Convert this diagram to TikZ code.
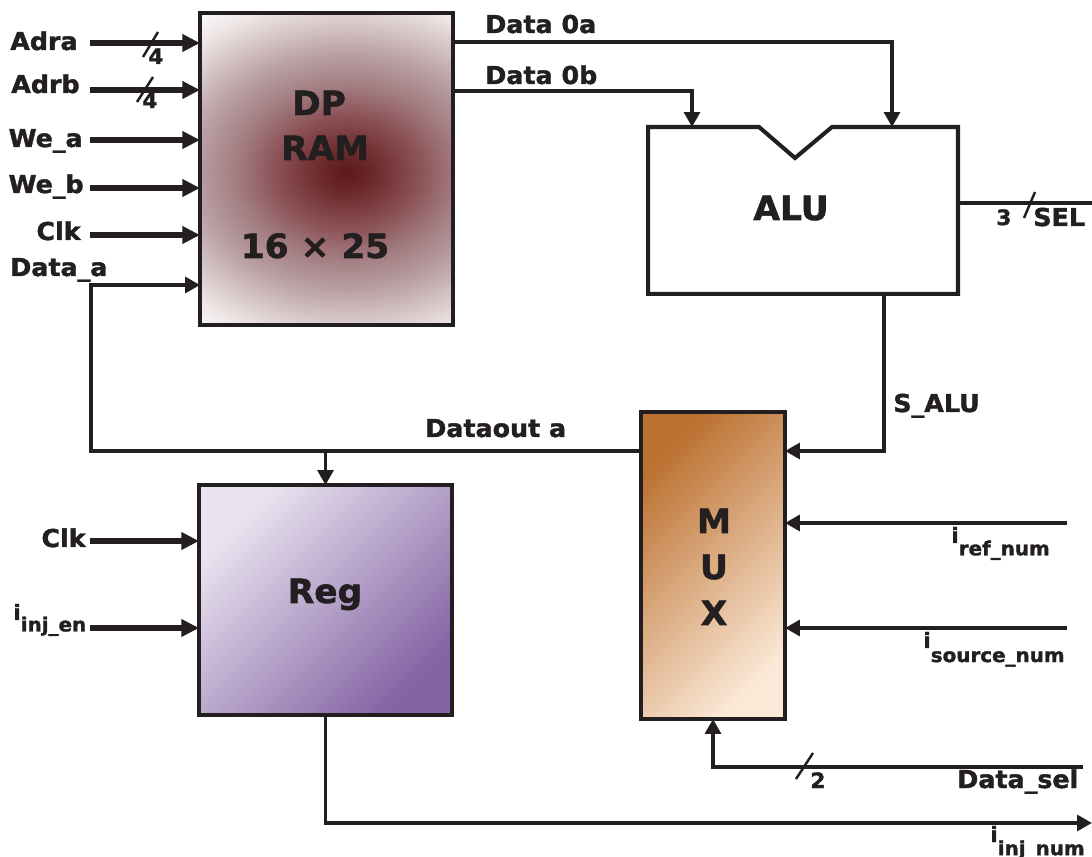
\documentclass[tikz,border=0pt]{standalone}
\usepackage{fontspec}
\setmainfont{DejaVu Sans}[FakeStretch=1.03, BoldFeatures={FakeBold=1.6}]
\usetikzlibrary{arrows.meta}
\definecolor{lc}{HTML}{231F20}
\definecolor{rc0}{HTML}{5C1A1C}
\definecolor{rc1}{HTML}{6A282A}
\definecolor{rc2}{HTML}{8A5054}
\definecolor{rc3}{HTML}{A27C80}
\definecolor{rc4}{HTML}{B89EA2}
\definecolor{rc5}{HTML}{CFBDC0}
\definecolor{rc6}{HTML}{EEE5E5}
\definecolor{rc7}{HTML}{FBF8F8}
\definecolor{muxA}{HTML}{BC7232}
\definecolor{muxB}{HTML}{FBE8D6}
\definecolor{regA}{HTML}{EAE4F0}
\definecolor{regB}{HTML}{8464A4}
\pgfdeclareradialshading{ramsh}{\pgfpoint{0bp}{0bp}}{color(0bp)=(rc0); color(2.5bp)=(rc1); color(7bp)=(rc2); color(11bp)=(rc3); color(15bp)=(rc4); color(18bp)=(rc5); color(22bp)=(rc6); color(25bp)=(rc7); color(50bp)=(rc7)}
\newcommand{\isub}[2]{{\fontsize{12}{14}\selectfont\bfseries i}\raisebox{-#2}{\fontsize{11}{13}\selectfont\bfseries #1}}
\begin{document}
\begin{tikzpicture}[x=0.02cm,y=-0.02cm,
  lbl/.style={font=\fontsize{14}{16}\selectfont\bfseries, inner sep=0, text=lc},
  big/.style={font=\fontsize{19}{22}\selectfont\bfseries, inner sep=0, text=lc},
  sm/.style={font=\fontsize{12}{14}\selectfont\bfseries, inner sep=0, text=lc},
  box/.style={draw=lc, line width=2.3pt, inner sep=0, outer sep=0},
  inarr/.style={draw=lc, line width=3pt, -{Triangle[length=10pt,width=9.5pt]}},
  wire/.style={draw=lc, line width=2pt},
  arr/.style={-{Triangle[length=8.5pt,width=9pt]}},
  tickmark/.style={draw=lc, line width=1.4pt}]
\useasboundingbox (0,0) rectangle (1092,857);

% DP RAM block
\node[inner sep=0, outer sep=0, minimum width=5.06cm, minimum height=6.24cm] (ram) at (326.5,169) {};
\begin{scope}
  \clip (ram.south west) rectangle (ram.north east);
  \shade[shading=ramsh] (347,172) ellipse [x radius=5cm, y radius=3.9cm];
\end{scope}
\draw[box] (ram.south west) rectangle (ram.north east);
\node[big] (tdp) at (319,115) [anchor=base] {DP};
\node[big] (tram) at (325,160) [anchor=base] {RAM};
\node[big] (tsize) at (315,258) [anchor=base] {16 × 25};

% ALU block
\node[inner sep=0, outer sep=0, minimum width=6.2cm, minimum height=3.34cm] (alu) at (803,210.5) {};
\draw[lc, line width=2.3pt, line join=miter] (alu.north west) -- (759,127) -- (795,158) -- (832,127) -- (alu.north east) -- (alu.south east) -- (alu.south west) -- cycle;
\node[big] (talu) at (791,220) [anchor=base] {ALU};

% MUX block
\node[box, shade, top color=muxA, bottom color=muxB, shading angle=45, minimum width=2.88cm, minimum height=6.14cm] (mux) at (713,565.5) {};
\node[big] (tm) at (714,533) [anchor=base] {M};
\node[big] (tu) at (714,579) [anchor=base] {U};
\node[big] (tx) at (714,625) [anchor=base] {X};

% Reg block
\node[box, shade, top color=regA, bottom color=regB, shading angle=45, minimum width=5.06cm, minimum height=4.6cm] (reg) at (325.5,600) {};
\node[big] (treg) at (325,603) [anchor=base] {Reg};

% RAM inputs
\coordinate (adra) at (90,43);
\coordinate (adrb) at (90,90);
\coordinate (wea) at (90,140);
\coordinate (web) at (90,188);
\coordinate (clka) at (90,235);
\draw[inarr] (adra) -- (adra -| ram.west);
\draw[inarr] (adrb) -- (adrb -| ram.west);
\draw[inarr] (wea) -- (wea -| ram.west);
\draw[inarr] (web) -- (web -| ram.west);
\draw[inarr] (clka) -- (clka -| ram.west);
\node[lbl, anchor=base east] (ladra) at (78,50) {Adra};
\node[lbl, anchor=base east] (ladrb) at (80,93) {Adrb};
\node[lbl, anchor=base east] (lwea) at (83,147) {We\_a};
\node[lbl, anchor=base east] (lweb) at (84,193) {We\_b};
\node[lbl, anchor=base east] (lclka) at (81,240) {Clk};
\node[lbl, anchor=base west] (ldata) at (10,276) {Data\_a};
\coordinate (sa1) at (143,57); \coordinate (sa2) at (158,32);
\draw[tickmark] (sa1) -- (sa2);
\node[sm, anchor=base west] (n4a) at (148,64) {4};
\coordinate (sb1) at (137,102); \coordinate (sb2) at (153,77);
\draw[tickmark] (sb1) -- (sb2);
\node[sm, anchor=base west] (n4b) at (142,108) {4};

% RAM outputs to ALU
\coordinate (d0a) at (892,42);
\coordinate (d0b) at (692,91);
\draw[wire, arr] (d0a -| ram.east) -- (d0a) -- (d0a |- alu.north);
\draw[wire, arr] (d0b -| ram.east) -- (d0b) -- (d0b |- alu.north);
\node[lbl, anchor=base west] (ld0a) at (485,33) {Data 0a};
\node[lbl, anchor=base west] (ld0b) at (485,84) {Data 0b};

% SEL
\coordinate (selend) at (1092,203);
\draw[wire] (alu.east |- selend) -- (selend);
\coordinate (ss1) at (1024,218); \coordinate (ss2) at (1035,192);
\draw[tickmark] (ss1) -- (ss2);
\node[sm, anchor=base west] (n3) at (996,225) {3};
\node[lbl, anchor=base west] (lsel) at (1033,226) {SEL};

% ALU to MUX
\coordinate (salu) at (884,451);
\draw[wire, arr] (salu |- alu.south) -- (salu) -- (salu -| mux.east);
\node[lbl, anchor=base west] (lsalu) at (893,412) {S\_ALU};

% MUX inputs
\coordinate (iref) at (1067,523);
\coordinate (isrc) at (1067,628);
\draw[wire, line width=2.4pt, arr] (iref) -- (iref -| mux.east);
\draw[wire, line width=2.4pt, arr] (isrc) -- (isrc -| mux.east);
\node[lbl, anchor=base west] (liref) at (951,543) {\isub{ref\_num}{7pt}};
\node[lbl, anchor=base west] (lisrc) at (923,648) {\isub{source\_num}{8pt}};

\coordinate (dsel) at (1083,767);
\draw[wire, arr] (dsel) -- (dsel -| mux.south) -- (mux.south);
\coordinate (sd1) at (796,779); \coordinate (sd2) at (813,753);
\draw[tickmark] (sd1) -- (sd2);
\node[sm, anchor=base west] (n2) at (810,788) {2};
\node[lbl, anchor=base west] (ldsel) at (957,788) {Data\_sel};

% Feedback: MUX -> RAM and Reg
\coordinate (fbk) at (91,451);
\coordinate (dain) at (91,285);
\draw[wire, arr] (mux.west |- fbk) -- (fbk) -- (dain) -- (dain -| ram.west);
\draw[wire, arr] (reg.north |- fbk) -- (reg.north);
\node[lbl, anchor=base west] (ldout) at (425,437) {Dataout a};

% Reg inputs
\coordinate (clkr) at (90,541);
\coordinate (injen) at (90,628);
\draw[inarr] (clkr) -- (clkr -| reg.west);
\draw[inarr] (injen) -- (injen -| reg.west);
\node[lbl, anchor=base east] (lclkr) at (86,547) {Clk};
\node[lbl, anchor=base west] (linjen) at (13,620) {\isub{inj\_en}{6.5pt}};

% Reg output
\coordinate (inj) at (1092,823);
\draw[wire, arr] (reg.south) -- (reg.south |- inj) -- (inj);
\node[lbl, anchor=base west] (linj) at (990,842) {\isub{inj\_num}{7.5pt}};
\end{tikzpicture}
\end{document}
